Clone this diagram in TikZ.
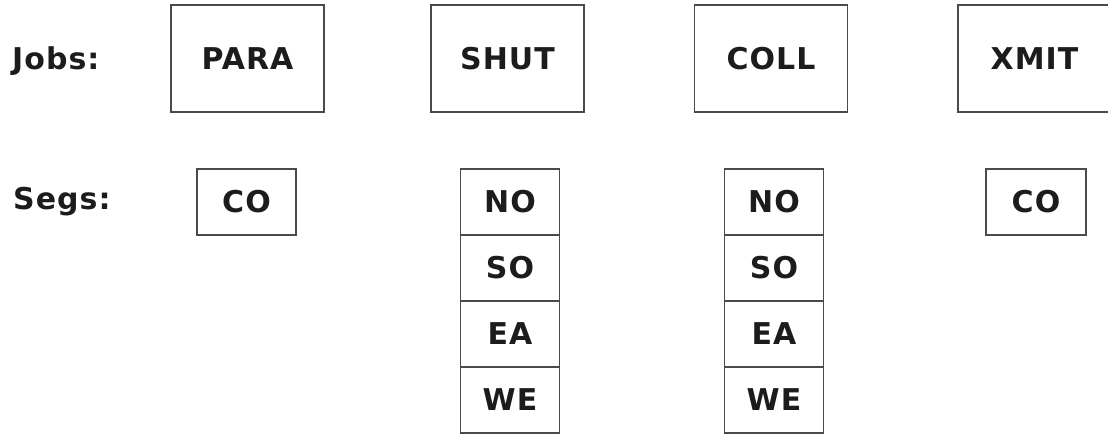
\documentclass[tikz,border=0pt]{standalone}
\usepackage{fontspec}
\setmainfont{DejaVu Sans}
\newfontfamily\dsfont[LetterSpace=3.5]{DejaVu Sans}
\usepackage{tikz}
\usetikzlibrary{positioning}
\definecolor{inkline}{HTML}{4A4A4A}
\definecolor{inktext}{HTML}{1C1C1C}
\tikzset{
  ds txt/.style={font=\dsfont\fontsize{30}{35}\selectfont\bfseries, text=inktext},
  ds box/.style={ds txt, draw=inkline, line width=1.6pt, fill=white, inner sep=0pt, outer sep=0pt, align=center},
  ds job/.style={ds box, minimum width=153pt, minimum height=107pt},
  ds seg/.style={ds box, minimum width=99pt, minimum height=66pt},
  ds head/.style={ds txt, anchor=west, inner sep=0pt},
}
\begin{document}
\begin{tikzpicture}[x=1pt, y=-1pt]
  \useasboundingbox (0,0) rectangle (1108,434);
  % row labels
  \node[ds head] (jobs) at (12,61)  {Jobs:};
  \node[ds head] (segs) at (13,202) {Segs:};
  % the four jobs
  \node[ds job] (para) at (247.5,58.5)  {PARA};
  \node[ds job] (shut) at (507.5,58.5)  {SHUT};
  \node[ds job] (coll) at (771,58.5)    {COLL};
  \node[ds job] (xmit) at (1034.5,58.5) {XMIT};
  % segments of each job
  \node[ds seg] (paraCO) at (246.5,202) {CO};
  \node[ds seg, minimum width=100pt] (xmitCO) at (1036,202) {CO};
  \foreach \j/\x in {shut/510, coll/774} {
    \node[ds seg] (\j NO) at (\x,202) {NO};
    \node[ds seg, below=0pt of \j NO] (\j SO) {SO};
    \node[ds seg, below=0pt of \j SO] (\j EA) {EA};
    \node[ds seg, below=0pt of \j EA] (\j WE) {WE};
  }
\end{tikzpicture}
\end{document}
